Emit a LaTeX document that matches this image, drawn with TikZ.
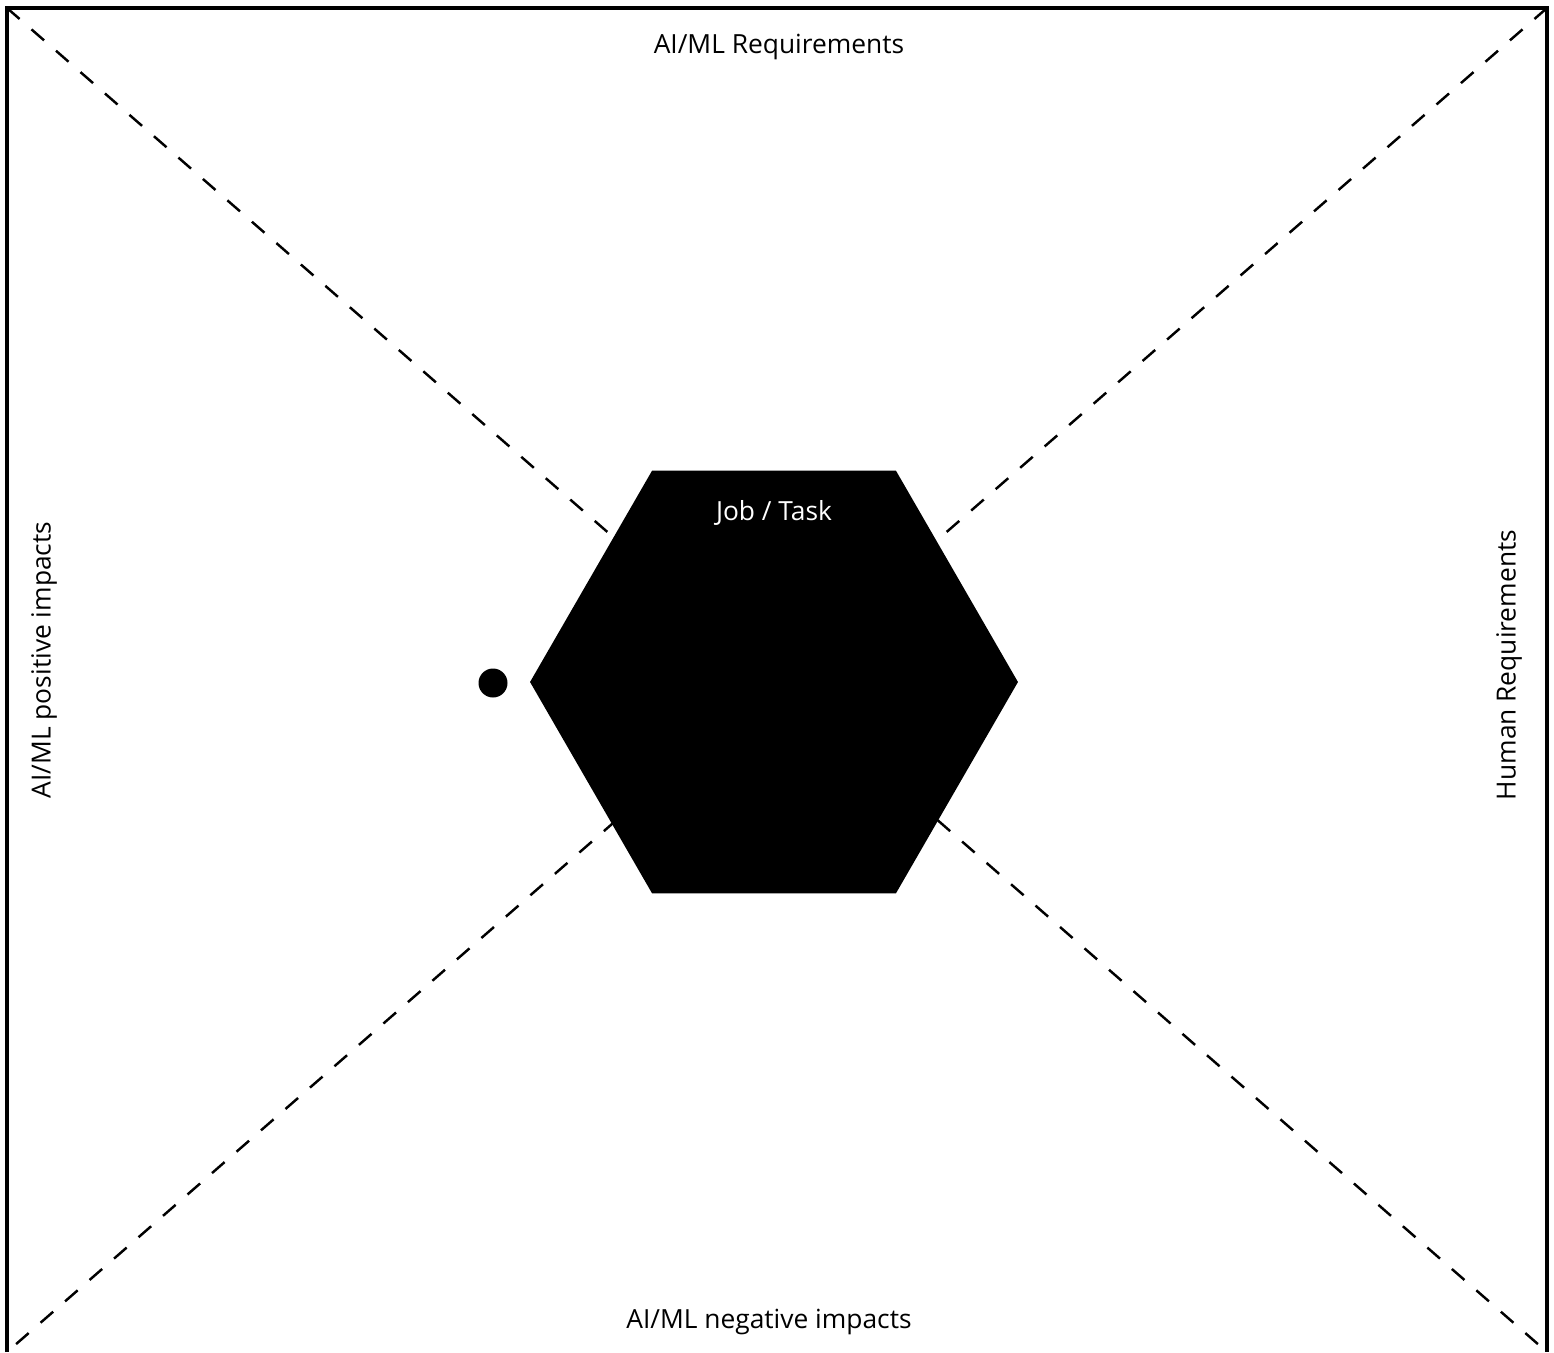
\documentclass[tikz,border=0pt]{standalone}
\usepackage{fontspec}
\setmainfont{Open Sans}
\usepackage{tikz}
\usetikzlibrary{shapes.geometric, positioning}

\begin{document}
\begin{tikzpicture}[
    x=0.02cm, y=-0.02cm,
    font=\fontsize{15}{18}\selectfont,
    frame/.style={line width=1.8pt},
    diag/.style={line width=1.4pt, dash pattern=on 9.5pt off 9pt},
    task/.style={regular polygon, regular polygon sides=6, fill=black,
                 inner sep=0pt, minimum size=9.76cm},
    dot/.style={circle, fill=black, inner sep=0pt, minimum size=0.58cm},
    side/.style={inner sep=0pt},
]
\useasboundingbox (0,0) rectangle (1554,1352);

\coordinate (tl) at (7,8);
\coordinate (tr) at (1547,8);
\coordinate (bl) at (7,1352);
\coordinate (br) at (1547,1352);

% frame, open at the bottom
\draw[frame] (bl) -- (tl) -- (tr) -- (br);

% quadrant diagonals
\draw[diag] (tl) -- (br);
\draw[diag] (tr) -- (bl);

\node[task] (hex) at (774,682) {};
\node[side, text=white] (job) at (774,513) {Job / Task};
\node[dot] (pin) at (493,683) {};

\node[side] (top)    at (779,47)   {AI/ML Requirements};
\node[side] (bottom) at (769,1322) {AI/ML negative impacts};
\node[side, rotate=90] (left)  at (44,660)   {AI/ML positive impacts};
\node[side, rotate=90] (right) at (1509,665) {Human Requirements};

\end{tikzpicture}
\end{document}
